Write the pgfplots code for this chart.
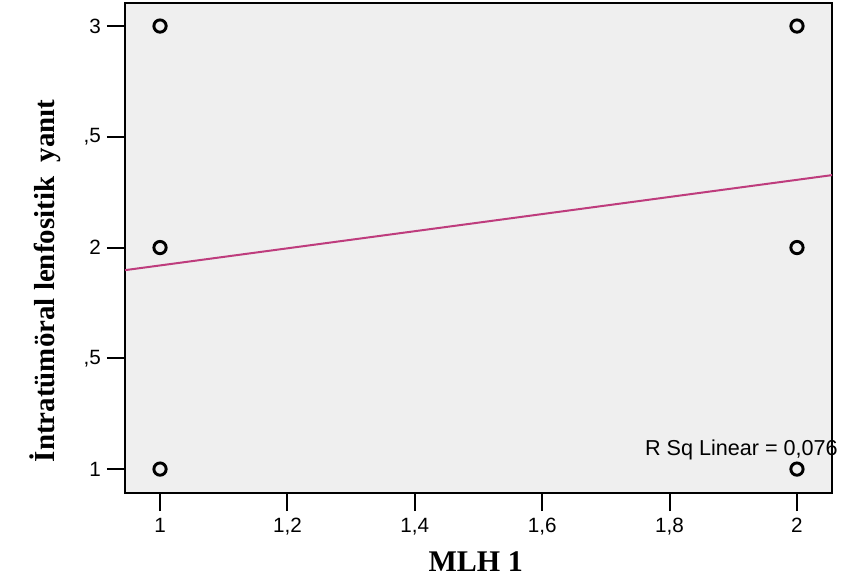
\documentclass[border=0pt]{standalone}
\usepackage{fontspec}
\setmainfont{Liberation Sans}
\newfontfamily\tnr{Liberation Serif}
\usepackage{pgfplots}
\pgfplotsset{compat=1.18}
\definecolor{panel}{HTML}{EFEFEF}
\definecolor{fitline}{RGB}{190,60,125}
\begin{document}
\begin{tikzpicture}
\begin{axis}[
  scale only axis,
  width=530.25pt, height=367.5pt,
  xmin=0.945, xmax=2.055,
  ymin=0.892, ymax=3.104,
  xtick={1,1.2,1.4,1.6,1.8,2},
  ytick={1,1.5,2,2.5,3},
  tick pos=left, tick align=outside,
  major tick length=13.5pt,
  every tick/.style={black, line width=1.5pt},
  axis line style={black, line width=1.3pt},
  axis background/.style={fill=panel},
  /pgf/number format/.cd, use comma, assume math mode=true,
  /pgfplots/.cd,
  tick label style={font=\fontsize{15.5}{18}\selectfont},
  xticklabel style={yshift=-2pt},
  yticklabel style={xshift=-1pt},
  xlabel={\tnr\bfseries MLH 1},
  ylabel={\tnr\bfseries İntratümöral lenfositik\ \ yanıt},
  xlabel style={at={(axis description cs:0.496,-0.139)}, anchor=center,
    font=\fontsize{22.5}{26}\selectfont, fill=white, inner xsep=58pt, inner ysep=12.5pt},
  ylabel style={at={(axis description cs:-0.113,0.433)}, anchor=center,
    font=\fontsize{21.7}{25}\selectfont, fill=white, inner xsep=2pt, inner ysep=18pt},
  clip=false,
]
\addplot[fitline, line width=1.5pt] coordinates {(0.945,1.898) (2.055,2.327)};
\addplot[only marks, mark=o, mark size=4.6pt, line width=2.2pt, black]
  coordinates {(1,1) (1,2) (1,3) (2,1) (2,2) (2,3)};
\node[anchor=base west, font=\fontsize{16.2}{19}\selectfont, inner sep=0pt]
  at (axis cs:1.761,1.063) {R Sq Linear = 0,076};
\coordinate (bl) at (rel axis cs:0,0);
\end{axis}
\pgfresetboundingbox
\path (bl) ++(-93.75pt,-66.75pt) rectangle ++(630.75pt,436.5pt);
\end{tikzpicture}
\end{document}
